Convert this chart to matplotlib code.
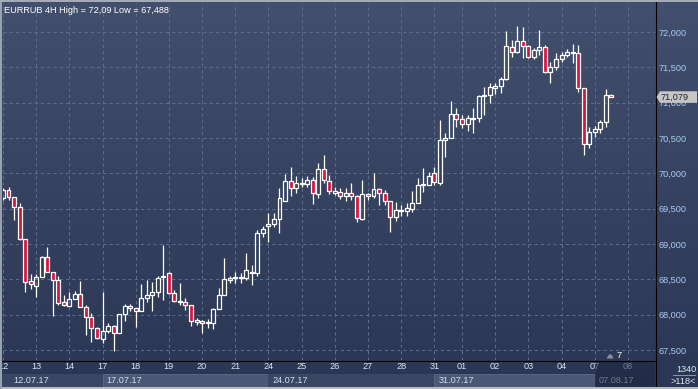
import numpy as np
import matplotlib
matplotlib.use("Agg")
import matplotlib.pyplot as plt
from matplotlib.patches import Rectangle, Polygon
from matplotlib.lines import Line2D
from matplotlib.colors import LinearSegmentedColormap
from matplotlib.transforms import blended_transform_factory
from matplotlib.ticker import FuncFormatter

plt.rcParams['font.family'] = ['Liberation Sans', 'DejaVu Sans']

# EURRUB 4H candles, 12.07.17 - 07.08.17
opens = [69.650, 69.764, 69.660, 69.520, 69.067, 68.477, 68.410, 68.529, 68.812, 68.600,
         68.491, 68.175, 68.127, 68.218, 68.293, 68.109, 67.967, 67.807, 67.652, 67.773,
         67.840, 67.737, 68.010, 68.119, 68.090, 68.052, 68.232, 68.279, 68.317, 68.529,
         68.586, 68.302, 68.180, 68.180, 68.133, 67.900, 67.906, 67.878, 67.887, 68.076,
         68.279, 68.491, 68.520, 68.520, 68.524, 68.608, 68.586, 69.152, 69.255, 69.283,
         69.350, 69.610, 69.896, 69.788, 69.850, 69.850, 69.906, 69.703, 70.057, 69.896,
         69.726, 69.731, 69.679, 69.717, 69.679, 69.354, 69.708, 69.679, 69.774, 69.718,
         69.609, 69.378, 69.460, 69.472, 69.491, 69.576, 69.830, 69.835, 70.009, 69.868,
         70.472, 70.496, 70.835, 70.773, 70.694, 70.773, 70.779, 71.090, 71.113, 71.212,
         71.236, 71.331, 71.792, 71.713, 71.877, 71.806, 71.642, 71.745, 71.783, 71.438,
         71.500, 71.614, 71.675, 71.700, 71.700, 71.203, 70.411, 70.590, 70.623, 70.722,
         71.104]
highs = [69.790, 69.807, 69.670, 69.576, 69.067, 68.576, 68.576, 68.830, 68.954, 68.600,
         68.548, 68.274, 68.321, 68.335, 68.481, 68.133, 68.028, 67.826, 68.321, 67.878,
         67.850, 68.010, 68.151, 68.151, 68.090, 68.434, 68.491, 68.467, 68.548, 68.986,
         68.600, 68.349, 68.444, 68.232, 68.133, 67.949, 67.920, 67.935, 68.090, 68.373,
         68.798, 68.548, 68.608, 68.586, 68.868, 68.703, 69.198, 69.255, 69.443, 69.435,
         69.788, 69.991, 70.094, 69.963, 69.930, 69.963, 69.953, 70.142, 70.260, 69.976,
         69.811, 69.788, 69.788, 69.868, 69.700, 69.906, 69.717, 70.009, 69.790, 69.764,
         69.609, 69.599, 69.552, 69.576, 69.755, 69.930, 70.071, 70.023, 70.094, 70.755,
         70.575, 71.024, 70.920, 70.830, 70.830, 70.920, 71.113, 71.226, 71.274, 71.283,
         71.368, 72.014, 71.887, 72.090, 72.075, 71.820, 71.769, 72.028, 71.820, 71.580,
         71.698, 71.722, 71.755, 71.830, 71.816, 71.203, 70.660, 70.670, 70.750, 71.193,
         71.123]
lows = [69.620, 69.623, 69.340, 69.060, 68.325, 68.368, 68.255, 68.529, 68.600, 67.986,
        68.137, 68.123, 68.127, 68.218, 68.113, 67.717, 67.618, 67.652, 67.599, 67.745,
        67.488, 67.737, 67.915, 68.056, 67.822, 68.052, 68.175, 68.056, 68.255, 68.208,
        68.288, 68.175, 68.137, 68.066, 67.840, 67.853, 67.745, 67.807, 67.793, 68.076,
        68.279, 68.444, 68.453, 68.453, 68.491, 68.420, 68.548, 69.095, 69.033, 69.237,
        69.160, 69.610, 69.680, 69.717, 69.802, 69.802, 69.562, 69.647, 69.859, 69.708,
        69.694, 69.632, 69.613, 69.623, 69.316, 69.340, 69.623, 69.647, 69.552, 69.552,
        69.175, 69.330, 69.396, 69.396, 69.458, 69.576, 69.740, 69.835, 69.835, 69.835,
        70.227, 70.496, 70.651, 70.637, 70.604, 70.566, 70.731, 70.826, 71.000, 71.123,
        71.132, 71.320, 71.651, 71.700, 71.628, 71.628, 71.618, 71.675, 71.415, 71.274,
        71.462, 71.580, 71.642, 71.566, 71.155, 70.260, 70.354, 70.519, 70.575, 70.660,
        71.079]
closes = [69.760, 69.660, 69.520, 69.067, 68.458, 68.430, 68.529, 68.812, 68.600, 68.491,
          68.170, 68.133, 68.218, 68.293, 68.113, 67.963, 67.807, 67.674, 67.765, 67.840,
          67.737, 68.010, 68.123, 68.090, 68.052, 68.232, 68.279, 68.317, 68.515, 68.548,
          68.311, 68.198, 68.198, 68.133, 67.915, 67.925, 67.878, 67.900, 68.076, 68.279,
          68.501, 68.515, 68.538, 68.538, 68.632, 68.586, 69.152, 69.208, 69.283, 69.350,
          69.647, 69.896, 69.788, 69.859, 69.868, 69.906, 69.718, 70.061, 69.906, 69.754,
          69.754, 69.679, 69.717, 69.679, 69.364, 69.708, 69.679, 69.774, 69.718, 69.609,
          69.378, 69.481, 69.481, 69.505, 69.585, 69.835, 69.850, 69.962, 69.882, 70.472,
          70.496, 70.835, 70.765, 70.694, 70.779, 70.783, 71.094, 71.113, 71.217, 71.236,
          71.331, 71.802, 71.713, 71.877, 71.806, 71.642, 71.745, 71.783, 71.438, 71.500,
          71.614, 71.675, 71.713, 71.717, 71.203, 70.411, 70.590, 70.623, 70.722, 71.109,
          71.079]

day_labels = ["12", "13", "14", "17", "18", "19", "20", "21", "24", "25",
              "26", "27", "28", "31", "01", "02", "03", "04", "07", "08"]
day_starts = [0, 6, 12, 18, 24, 30, 36, 42, 48, 54,
              60, 66, 72, 78, 83, 89, 95, 101, 107, 113]
week_labels = ["12.07.17", "17.07.17", "24.07.17", "31.07.17", "07.08.17"]
week_starts = [0, 18, 48, 78, 107]
price_ticks = [67.5, 68.0, 68.5, 69.0, 69.5, 70.0, 70.5, 71.0, 71.5, 72.0]
last_price = 71.079
title = "EURRUB 4H High = 72,09 Low = 67,488"

W, H = 698, 389
fig = plt.figure(figsize=(W / 100, H / 100), dpi=100)


def fx(px):
    return px / W


def fy(py):
    return 1 - py / H


# background gradient over the whole frame
bg = fig.add_axes([0, 0, 1, 1], zorder=-2)
bg.axis('off')
cmap = LinearSegmentedColormap.from_list('navy', ['#424f6d', '#2a3653'])
bg.imshow(np.linspace(0, 1, 256).reshape(-1, 1), cmap=cmap, aspect='auto',
          extent=[0, 1, 0, 1])
bg.set_xlim(0, 1)
bg.set_ylim(0, 1)

ax = fig.add_axes([fx(2.7), fy(360), fx(655) - fx(2.7), fy(3) - fy(360)])
ax.patch.set_alpha(0)
for s in ax.spines.values():
    s.set_visible(False)

o = np.array(opens)
h = np.array(highs)
l = np.array(lows)
c = np.array(closes)
x = np.arange(len(o))
top = np.maximum(o, c)
bot = np.minimum(o, c)
up = c >= o

ax.vlines(x, top, h, color='white', linewidth=0.9, zorder=3)
ax.vlines(x, l, bot, color='white', linewidth=0.9, zorder=3)
ax.bar(x, np.maximum(top - bot, 0.012), bottom=bot, width=0.72,
       color=np.where(up, 'none', '#e0123c'), edgecolor='white',
       linewidth=0.9, zorder=4)

ax.set_xlim(-0.05, 117.9)
ax.set_ylim(67.358, 72.41)
ax.set_xticks(day_starts)
ax.set_xticklabels(day_labels)
ax.set_yticks(price_ticks)
ax.yaxis.tick_right()
ax.yaxis.set_major_formatter(FuncFormatter(lambda v, p: f"{v:.3f}".replace(".", ",")))
ax.grid(True, color='#5e6d8d', linestyle=(0, (3, 3)), linewidth=0.75, zorder=1)
ax.tick_params(axis='y', length=0, pad=2.2, labelsize=6.6, labelcolor='#a9caf2')
ax.tick_params(axis='x', length=0, pad=1.6, labelsize=6.6, labelcolor='#dbe5f3')

# week boxes under the day labels
bx = blended_transform_factory(ax.transData, fig.transFigure)
week_ends = week_starts[1:] + [117.9]
fills = ['#3a4764', '#4b5976', '#3a4764', '#4b5976', '#2a3551']
for i, (a, b) in enumerate(zip(week_starts, week_ends)):
    a0 = -1.0 if i == 0 else a
    fig.add_artist(Rectangle((a0, fy(386.5)), b - a0, fy(373.5) - fy(386.5),
                             transform=bx, facecolor=fills[i],
                             edgecolor='#5d6b88' if i % 2 else 'none',
                             linewidth=0.6, zorder=-1))
bt = blended_transform_factory(ax.transData, ax.transAxes)
for i, (a, lab) in enumerate(zip(week_starts, week_labels)):
    xa = 1.86 if i == 0 else a + 0.7
    ax.text(xa, -0.057, lab, transform=bt, ha='left', va='center',
            fontsize=6.6, color='#d3deec', clip_on=False)

# darkened future region in the time scale
fig.add_artist(Rectangle((107.3, fy(386.5)), 117.9 - 107.3, fy(360.5) - fy(386.5),
                         transform=bx, facecolor='#1c2540', alpha=0.55,
                         edgecolor='none', zorder=5))

# frame lines and borders
fig.add_artist(Line2D([fx(655.5), fx(655.5)], [fy(2), fy(389)], color='black',
                      linewidth=0.8, transform=fig.transFigure, zorder=6))
fig.add_artist(Line2D([fx(2), fx(655.5)], [fy(360.5), fy(360.5)], color='black',
                      linewidth=0.8, transform=fig.transFigure, zorder=6))
fig.add_artist(Rectangle((0, 0), 1, fy(386.7), transform=fig.transFigure,
                         facecolor='#b6bac2', edgecolor='none', zorder=6))
fig.add_artist(Rectangle((0, 0), fx(2), 1, transform=fig.transFigure,
                         facecolor='#9aa2b0', edgecolor='none', zorder=6))
fig.add_artist(Rectangle((0, fy(2)), 1, 1 - fy(2), transform=fig.transFigure,
                         facecolor='#a3abb8', edgecolor='none', zorder=6))

# last price marker
by = blended_transform_factory(fig.transFigure, ax.transData)
box = Polygon([(fx(656.5), last_price), (fx(660), last_price + 0.082),
               (fx(697), last_price + 0.082), (fx(697), last_price - 0.082),
               (fx(660), last_price - 0.082)], closed=True, transform=by,
              facecolor='#c6c6c6', edgecolor='none', zorder=7)
fig.add_artist(box)
fig.text(fx(660.5), 0, f"{last_price:.3f}".replace(".", ","), transform=by,
         fontsize=6.6, color='#1b2233', ha='left', va='center', zorder=8)
fig.texts[-1].set_y(last_price)

# bar counter in the bottom-right corner
fig.text(fx(686), fy(369), "1340", fontsize=6.6, color='#dfe7f1', ha='center',
         va='center', zorder=8)
fig.add_artist(Line2D([fx(673), fx(695)], [fy(374.5), fy(374.5)], color='#9aa6ba',
                      linewidth=0.6, transform=fig.transFigure, zorder=8))
fig.text(fx(683), fy(381.5), ">118<", fontsize=6.6, color='#dfe7f1', ha='center',
         va='center', zorder=8)

# small shift marker
fig.add_artist(Polygon([(fx(606.5), fy(358.5)), (fx(609), fy(354.5)),
                        (fx(611.5), fy(354.5)), (fx(613.5), fy(358.5))],
                       closed=True, transform=fig.transFigure,
                       facecolor='#8b909c', edgecolor='none', zorder=8))
fig.text(fx(619.5), fy(355.5), "7", fontsize=6.6, color='white', ha='center',
         va='center', zorder=8)

fig.text(fx(4), fy(10.5), title, fontsize=6.6, color='white', ha='left',
         va='center', zorder=8)

fig.savefig('out.png', dpi=100, facecolor='#2e3a57')
